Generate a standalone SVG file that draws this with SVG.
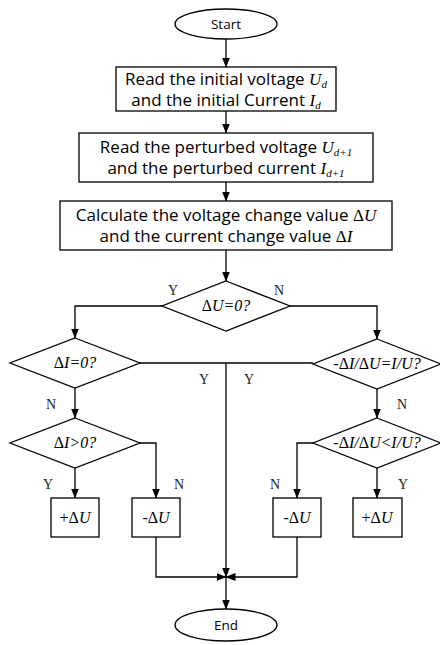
<svg xmlns="http://www.w3.org/2000/svg" width="440" height="645" viewBox="0 0 440 645">
<defs>
<marker id="arr" markerUnits="userSpaceOnUse" markerWidth="10" markerHeight="8" refX="9.5" refY="4" orient="auto"><path d="M0,0 L10,4 L0,8 z" fill="#000"/></marker>
<style>
.s{fill:#fff;stroke:#000;stroke-width:1.3}
.c{fill:none;stroke:#000;stroke-width:1.3;marker-end:url(#arr)}
.l{fill:none;stroke:#000;stroke-width:1.3}
.t{font-family:"Open Sans","DejaVu Sans",sans-serif;font-size:17px;text-anchor:middle;fill:#000}
.ts{font-family:"Open Sans","DejaVu Sans",sans-serif;font-size:13.5px;text-anchor:middle;fill:#000}
.m{font-family:"Liberation Serif","Times New Roman",serif;font-style:italic}
.mu{font-family:"Liberation Serif","Times New Roman",serif;font-style:normal}
.d{font-family:"Liberation Serif","Times New Roman",serif;font-style:italic;font-size:16px;text-anchor:middle;fill:#000}
.yn{font-family:"Liberation Serif","Times New Roman",serif;font-size:14px;text-anchor:middle;fill:#222}
</style>
</defs>
<rect width="440" height="645" fill="#fff"/>
<g id="connectors">
<path class="c" d="M226,39 V67"/>
<path class="c" d="M226,111 V133"/>
<path class="c" d="M226,182 V201"/>
<path class="c" d="M226,250 V281"/>
<path class="c" d="M162,306 H75 V338"/>
<path class="c" d="M290,306 H377 V339"/>
<path class="l" d="M140,363 H313"/>
<path class="c" d="M226,363 V577"/>
<path class="c" d="M75,388 V418"/>
<path class="c" d="M377,389 V418"/>
<path class="c" d="M75,468 V498"/>
<path class="c" d="M140,443 H156 V498"/>
<path class="c" d="M313,443 H297 V498"/>
<path class="c" d="M377,468 V498"/>
<path class="c" d="M156,537 V577 H226"/>
<path class="c" d="M297,537 V577 H226"/>
<path class="c" d="M226,577 V609"/>
<text class="yn" x="173" y="295">Y</text>
<text class="yn" x="279" y="295">N</text>
<text class="yn" x="204" y="384">Y</text>
<text class="yn" x="249" y="384">Y</text>
<text class="yn" x="51" y="409">N</text>
<text class="yn" x="402" y="409">N</text>
<text class="yn" x="48" y="489">Y</text>
<text class="yn" x="179" y="489">N</text>
<text class="yn" x="275" y="489">N</text>
<text class="yn" x="403" y="489">Y</text>
</g>
<g id="start">
<ellipse class="s" cx="226" cy="24" rx="51" ry="15"/>
<text class="ts" x="226" y="29">Start</text>
</g>
<g id="read-initial">
<rect class="s" x="116" y="67" width="220" height="44"/>
<text class="t" x="226" y="85">Read the initial voltage <tspan class="m">U</tspan><tspan class="m" font-size="11" dy="2.5">d</tspan></text>
<text class="t" x="226" y="106">and the initial Current <tspan class="m">I</tspan><tspan class="m" font-size="11" dy="2.5">d</tspan></text>
</g>
<g id="read-perturbed">
<rect class="s" x="79" y="133" width="294" height="49"/>
<text class="t" x="226" y="153">Read the perturbed voltage <tspan class="m">U</tspan><tspan class="m" font-size="11" dy="2.5">d+1</tspan></text>
<text class="t" x="226" y="174">and the perturbed current <tspan class="m">I</tspan><tspan class="m" font-size="11" dy="2.5">d+1</tspan></text>
</g>
<g id="calculate">
<rect class="s" x="60" y="201" width="332" height="49"/>
<text class="t" x="226" y="221">Calculate the voltage change value <tspan class="mu">Δ</tspan><tspan class="m">U</tspan></text>
<text class="t" x="226" y="242">and the current change value <tspan class="mu">Δ</tspan><tspan class="m">I</tspan></text>
</g>
<g id="d-du0">
<polygon class="s" points="226,281 290,306 226,331 162,306"/>
<text class="d" x="226" y="311"><tspan class="mu">Δ</tspan>U=0?</text>
</g>
<g id="d-di0">
<polygon class="s" points="75,338 140,363 75,388 10,363"/>
<text class="d" x="75" y="368"><tspan class="mu">Δ</tspan>I=0?</text>
</g>
<g id="d-eq">
<polygon class="s" points="377,339 441,364 377,389 313,364"/>
<text class="d" x="377" y="369">-<tspan class="mu">Δ</tspan>I/<tspan class="mu">Δ</tspan>U=I/U?</text>
</g>
<g id="d-di-pos">
<polygon class="s" points="75,418 140,443 75,468 10,443"/>
<text class="d" x="75" y="448"><tspan class="mu">Δ</tspan>I&gt;0?</text>
</g>
<g id="d-lt">
<polygon class="s" points="377,418 441,443 377,468 313,443"/>
<text class="d" x="377" y="448">-<tspan class="mu">Δ</tspan>I/<tspan class="mu">Δ</tspan>U&lt;I/U?</text>
</g>
<g id="inc-left">
<rect class="s" x="51" y="498" width="48" height="39"/>
<text class="d" x="75" y="523"><tspan class="mu">+Δ</tspan>U</text>
</g>
<g id="dec-left">
<rect class="s" x="132" y="498" width="48" height="39"/>
<text class="d" x="156" y="523"><tspan class="mu">-Δ</tspan>U</text>
</g>
<g id="dec-right">
<rect class="s" x="273" y="498" width="48" height="39"/>
<text class="d" x="297" y="523"><tspan class="mu">-Δ</tspan>U</text>
</g>
<g id="inc-right">
<rect class="s" x="353" y="498" width="49" height="39"/>
<text class="d" x="377" y="523"><tspan class="mu">+Δ</tspan>U</text>
</g>
<g id="end">
<ellipse class="s" cx="226" cy="625" rx="51" ry="16"/>
<text class="ts" x="226" y="630">End</text>
</g>
</svg>
